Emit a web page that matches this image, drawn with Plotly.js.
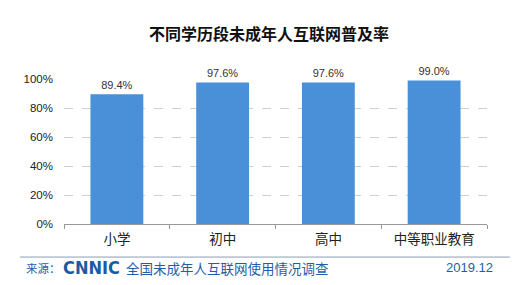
<!DOCTYPE html>
<html><head><meta charset="utf-8">
<script src="https://cdn.plot.ly/plotly-3.0.1.min.js"></script>
<style>html,body{margin:0;padding:0;background:#fff;}#c{width:527px;height:285px;}</style>
</head><body><div id="c"></div>
<script>
const categories = ['小学', '初中', '高中', '中等职业教育'];
const rates = [89.4, 97.6, 97.6, 99.0];
const yTicks = [0, 20, 40, 60, 80, 100];
const titleText = '不同学历段未成年人互联网普及率';
const sourceLabel = '来源：';
const sourceName = '全国未成年人互联网使用情况调查';
const dateText = '2019.12';

const font = '"Liberation Sans", Arial, "Noto Sans CJK SC", sans-serif';
const blue = '#1f5ea8';

const trace = {
  type: 'bar', x: categories, y: rates,
  marker: {color: '#4a90d9'}, width: 0.5,
  text: rates.map(v => v.toFixed(1) + '%'), textposition: 'outside',
  textfont: {size: 11, color: '#333', family: font}, cliponaxis: false,
  hoverinfo: 'none'
};
const layout = {
  width: 527, height: 285, margin: {l: 64, r: 40, t: 79, b: 61},
  paper_bgcolor: '#fff', plot_bgcolor: '#fff', showlegend: false,
  font: {family: font, color: '#222'},
  xaxis: {type: 'category', showline: true, linecolor: '#999', linewidth: 1,
    ticks: 'outside', tickson: 'boundaries', ticklen: 4, tickcolor: '#999',
    ticklabelstandoff: 3,
    tickfont: {size: 13.5, color: '#222', family: '"Noto Sans CJK SC", sans-serif'}, showgrid: false},
  yaxis: {range: [0, 100], tickmode: 'array', tickvals: yTicks, ticktext: yTicks.map(v => v + '%'),
    showline: false, gridcolor: '#cfcfcf', griddash: 'dash', gridwidth: 1, zeroline: false,
    tickfont: {size: 11.5, color: '#222'}, ticklabelstandoff: 10},
  shapes: [{type: 'line', xref: 'paper', yref: 'paper', x0: -0.104, x1: 1.054,
    y0: -0.228, y1: -0.228, line: {color: '#8a9db5', width: 1}}],
  annotations: [
    {text: '<b>' + titleText + '</b>', xref: 'paper', yref: 'paper', x: 0.485, y: 1.317,
      xanchor: 'center', yanchor: 'middle', showarrow: false,
      font: {size: 16, color: '#111', family: '"Noto Sans CJK SC", sans-serif'}},
    {text: sourceLabel, xref: 'paper', yref: 'paper', x: -0.095, y: -0.303, xanchor: 'left', yanchor: 'middle',
      showarrow: false, font: {size: 11.5, color: blue, family: '"Noto Sans CJK SC", sans-serif'}},
    {text: '<b>CNNIC</b>', xref: 'paper', yref: 'paper', x: -0.006, y: -0.303, xanchor: 'left', yanchor: 'middle',
      showarrow: false, font: {size: 18, color: '#1a5aa6', family: '"DejaVu Sans Condensed", "DejaVu Sans", sans-serif'}},
    {text: sourceName, xref: 'paper', yref: 'paper', x: 0.141, y: -0.303, xanchor: 'left', yanchor: 'middle',
      showarrow: false, font: {size: 13.5, color: blue, family: '"Noto Sans CJK SC", sans-serif'}},
    {text: dateText, xref: 'paper', yref: 'paper', x: 1.019, y: -0.303, xanchor: 'right', yanchor: 'middle',
      showarrow: false, font: {size: 13, color: blue, family: font}}
  ]
};
Plotly.newPlot('c', [trace], layout, {staticPlot: true, displayModeBar: false});
</script></body></html>
